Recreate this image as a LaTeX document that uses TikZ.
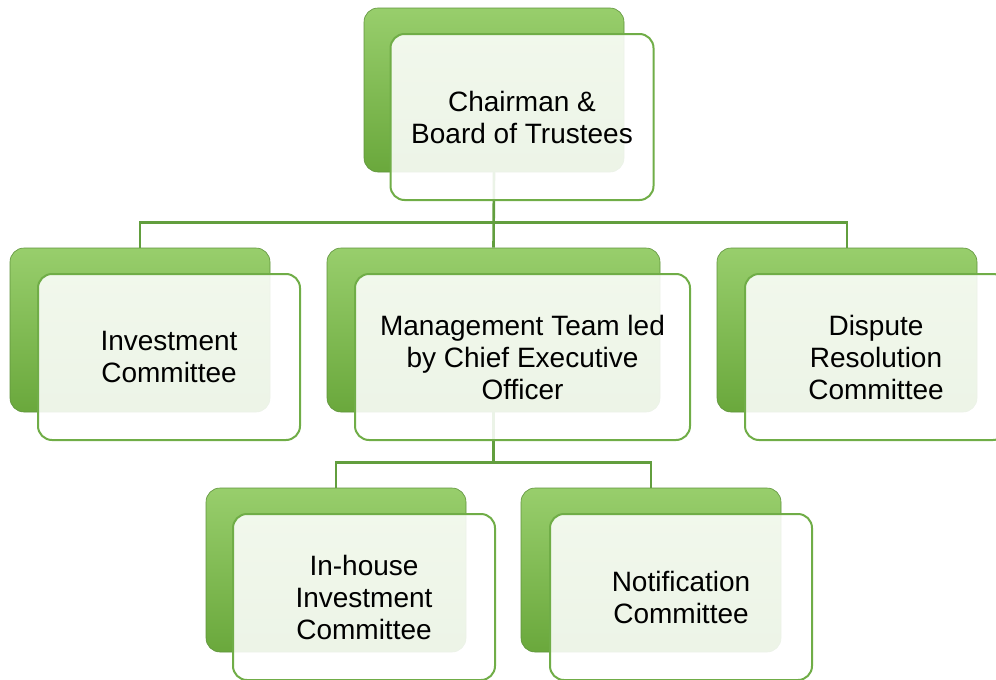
\documentclass[tikz,border=0pt]{standalone}
\usepackage{fontspec}
\setmainfont{Liberation Sans}
\usepackage{tikz}
\usetikzlibrary{positioning, calc}
\definecolor{boxgreen}{RGB}{112,173,71}
\definecolor{boxlight}{RGB}{152,206,108}
\definecolor{boxmid}{RGB}{118,180,72}
\definecolor{boxdark}{RGB}{106,168,60}
\definecolor{linkgreen}{RGB}{98,158,62}

\begin{document}
\begin{tikzpicture}[x=1pt, y=-1pt, backbox/.style={rounded corners=14pt,
      draw=boxgreen!85!black, line width=0.6pt, top color=boxlight, middle
      color=boxmid, bottom color=boxdark, minimum width=260pt, minimum
      height=164pt}, frontbox/.style={rounded corners=14pt, draw=boxgreen,
      line width=2pt, fill=white, fill opacity=0.88, text opacity=1, minimum
      width=262pt, minimum height=166pt, align=center,
      font=\fontsize{28pt}{32pt}\selectfont}, link/.style={line width=2.6pt,
      linkgreen} ]
    \useasboundingbox (0,0) rectangle (996,680);

    % Back boxes
    \node[backbox] (chairB) at (494,90) {}; \node[backbox] (invB) at (140,330)
    {}; \node[backbox, minimum width=333pt] (mgmtB) at (493.5,330) {};
    \node[backbox] (dispB) at (847,330) {}; \node[backbox] (inhB) at (336,570)
    {}; \node[backbox] (notB) at (651,570) {};

    % Connectors
    \draw[link] (chairB.south) -- (mgmtB.north); \draw[link] (chairB.south) --
    ++(0,50) -| (invB.north); \draw[link] (chairB.south) -- ++(0,50) -|
    (dispB.north);
    \draw[link] (mgmtB.south) -- ++(0,50) -| (inhB.north); \draw[link]
    (mgmtB.south) -- ++(0,50) -| (notB.north);

    % Front boxes with labels
    \node[frontbox, minimum width=263pt] (chairF) at (522,117) {Chairman
    \&\\Board of Trustees}; \node[frontbox] (invF) at (169,357)
    {Investment\\Committee}; \node[frontbox, minimum width=335pt] (mgmtF) at
    (522.5,357) {Management Team led\\by Chief Executive\\Officer};
    \node[frontbox] (dispF) at (876,357) {Dispute\\Resolution\\Committee};
    \node[frontbox] (inhF) at (364,597) {In-house\\Investment\\Committee};
    \node[frontbox] (notF) at (681,597) {Notification\\Committee};

    \end{tikzpicture}
\end{document}
